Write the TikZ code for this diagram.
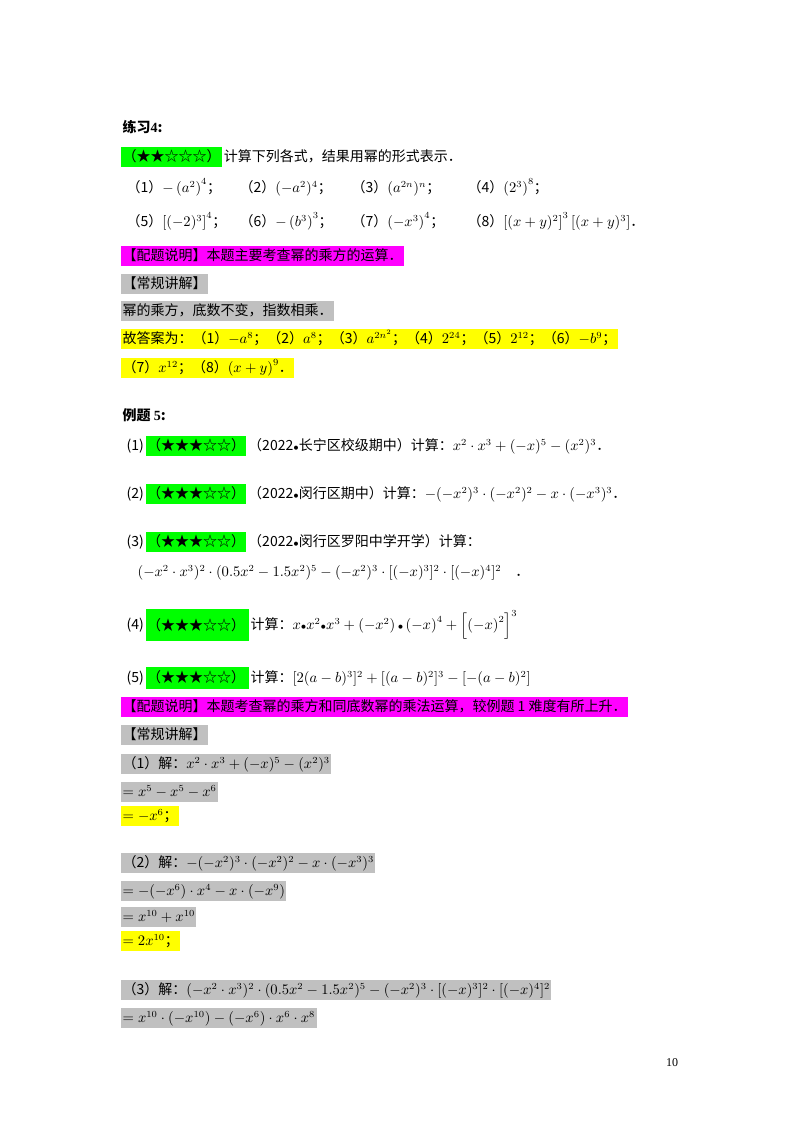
\documentclass[tikz,border=0pt]{standalone}
\usepackage{amsmath}
\usepackage{fontspec}
\setmainfont{Noto Sans CJK SC}
\newfontfamily\tnr{Liberation Serif}
\definecolor{hg}{RGB}{0,255,0}
\definecolor{hm}{RGB}{255,0,255}
\definecolor{hy}{RGB}{255,255,0}
\definecolor{hs}{RGB}{192,192,192}
\newcommand\sbul{{\scriptstyle\bullet}}
\begin{document}
\begin{tikzpicture}[x=0.75pt,y=-0.75pt,
  every node/.style={font=\fontsize{10.5}{12}\selectfont},
  t/.style={anchor=west,inner xsep=1pt,inner ysep=0pt,text height=11pt,text depth=4pt},
  hlg/.style={t,fill=hg},hlm/.style={t,fill=hm},hly/.style={t,fill=hy},hls/.style={t,fill=hs}]
\useasboundingbox[fill=white] (0,0) rectangle (800,1132);
\node[t,font=\fontsize{10.5}{12}\selectfont\bfseries] (h1) at (121,128) {练习{\tnr 4}:};
\node[hlg] (s1) at (121,157) {（★★☆☆☆）};
\node[t,anchor=west] (q1) at (s1.east) {计算下列各式，结果用幂的形式表示．};
\node[t] (a1) at (125,188) {（1）$-\left(a^2\right)^4$；};
\node[t] (a2) at (238,188) {（2）$(-a^2)^4$；};
\node[t] (a3) at (350,188) {（3）$(a^{2n})^n$；};
\node[t] (a4) at (466,188) {（4）$\left(2^3\right)^8$；};
\node[t] (a5) at (125,222) {（5）$\left[(-2)^3\right]^4$；};
\node[t] (a6) at (238,222) {（6）$-\left(b^3\right)^3$；};
\node[t] (a7) at (350,222) {（7）$\left(-x^3\right)^4$；};
\node[t] (a8) at (466,222) {（8）$\left[(x+y)^2\right]^3\left[(x+y)^3\right]$．};
\node[hlm] (p1) at (121,256) {【配题说明】本题主要考查幂的乘方的运算．};
\node[hls] (c1) at (121,284) {【常规讲解】};
\node[hls] (c2) at (121,311) {幂的乘方，底数不变，指数相乘．};
\node[hly] (y1) at (121,339) {故答案为：（1）$-a^8$；（2）$a^8$；（3）$a^{2n^2}$；（4）$2^{24}$；（5）$2^{12}$；（6）$-b^9$；};
\node[hly] (y2) at (121,368) {（7）$x^{12}$；（8）$\left(x+y\right)^9$．};
\node[t,font=\fontsize{10.5}{12}\selectfont\bfseries] (h2) at (121,416) {例题 {\tnr 5}:};
\node[t] (n1) at (125,446) {(1)};
\node[hlg] (g1) at (n1.east) {（★★★☆☆）};
\node[t] (e1) at (g1.east) {（2022$\sbul$长宁区校级期中）计算：$x^2\cdot x^3+(-x)^5-(x^2)^3$．};
\node[t] (n2) at (125,494) {(2)};
\node[hlg] (g2) at (n2.east) {（★★★☆☆）};
\node[t] (e2) at (g2.east) {（2022$\sbul$闵行区期中）计算：$-(-x^2)^3\cdot(-x^2)^2-x\cdot(-x^3)^3$．};
\node[t] (n3) at (125,542) {(3)};
\node[hlg] (g3) at (n3.east) {（★★★☆☆）};
\node[t] (e3) at (g3.east) {（2022$\sbul$闵行区罗阳中学开学）计算：};
\node[t] (f3) at (136,572) {$(-x^2\cdot x^3)^2\cdot(0.5x^2-1.5x^2)^5-(-x^2)^3\cdot[(-x)^3]^2\cdot[(-x)^4]^2$\quad．};
\node[t] (n4) at (125,625) {(4)};
\node[hlg,text height=16pt,text depth=8pt] (g4) at (n4.east) {（★★★☆☆）\,};
\node[t] (e4) at (g4.east) {计算：$x\sbul x^2\sbul x^3+\left(-x^2\right)\sbul\left(-x\right)^4+\left[\left(-x\right)^2\right]^3$};
\node[t] (n5) at (125,678) {(5)};
\node[hlg,text height=12pt,text depth=5pt] (g5) at (n5.east) {（★★★☆☆）\,};
\node[t] (e5) at (g5.east) {计算：$[2(a-b)^3]^2+[(a-b)^2]^3-[-(a-b)^2]$};
\node[hlm] (p2) at (121,707) {【配题说明】本题考查幂的乘方和同底数幂的乘法运算，较例题 1 难度有所上升．};
\node[hls] (c3) at (121,735) {【常规讲解】};
\node[hls] (r1) at (121,764) {（1）解：$x^2\cdot x^3+(-x)^5-(x^2)^3$};
\node[hls] (r2) at (121,792) {$=x^5-x^5-x^6$};
\node[hly] (r3) at (121,816) {$=-x^6$；};
\node[hls] (r4) at (121,863) {（2）解：$-(-x^2)^3\cdot(-x^2)^2-x\cdot(-x^3)^3$};
\node[hls] (r5) at (121,891) {$=-(-x^6)\cdot x^4-x\cdot(-x^9)$};
\node[hls] (r6) at (121,917) {$=x^{10}+x^{10}$};
\node[hly] (r7) at (121,941) {$=2x^{10}$；};
\node[hls] (r8) at (121,990) {（3）解：$(-x^2\cdot x^3)^2\cdot(0.5x^2-1.5x^2)^5-(-x^2)^3\cdot[(-x)^3]^2\cdot[(-x)^4]^2$};
\node[hls] (r9) at (121,1018) {$=x^{10}\cdot(-x^{10})-(-x^6)\cdot x^6\cdot x^8$};
\node[t,anchor=center,font=\fontsize{9}{10}\tnr] (pg) at (672,1062) {10};
\end{tikzpicture}
\end{document}
